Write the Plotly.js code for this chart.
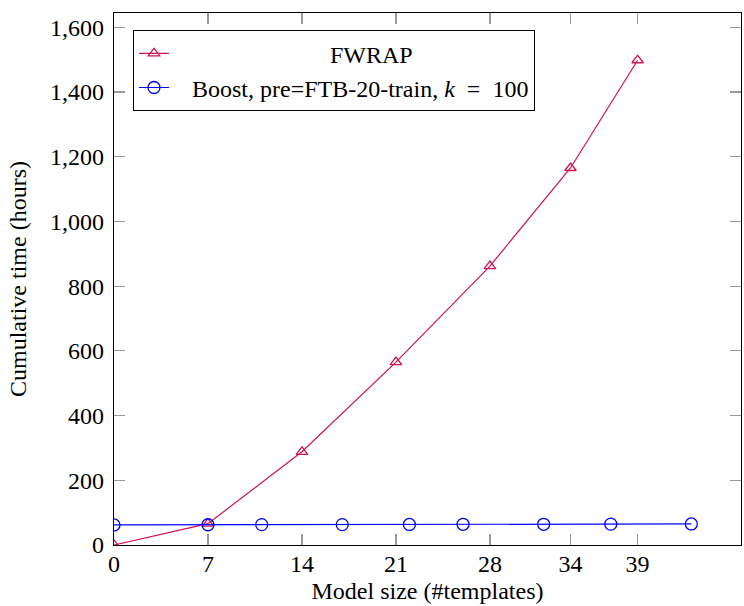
<!DOCTYPE html>
<html>
<head>
<meta charset="utf-8">
<script src="https://cdn.plot.ly/plotly-3.0.1.min.js"></script>
<style>html,body{margin:0;padding:0;background:#fff;}#chart{width:744px;height:606px;}</style>
</head>
<body>
<div id="chart"></div>
<script>
var fwrapX = [0, 7, 14, 21, 28, 34, 39];
var fwrapY = [0, 66, 288, 565, 862, 1165, 1498];
var boostX = [0, 7, 11, 17, 22, 26, 32, 37, 43];
var boostY = [62, 62.5, 63, 63, 63.5, 64, 64, 64.5, 65];
var xTicks = [0, 7, 14, 21, 28, 34, 39];
var yTicks = [0, 200, 400, 600, 800, 1000, 1200, 1400, 1600];

var NB = '\u00a0';
function pad(n){ var s=''; for(var i=0;i<n;i++) s+=NB; return s; }

var serif = 'Liberation Serif, Times New Roman, serif';
var red = '#cc1450';
var blue = '#0000ff';

var traces = [
  {
    x: fwrapX, y: fwrapY, type: 'scatter', mode: 'lines+markers',
    name: pad(26) + 'FWRAP',
    line: {color: red, width: 1.2},
    marker: {symbol: 'triangle-up-open', size: 10, color: red, line: {width: 1.3, color: red}}
  },
  {
    x: boostX, y: boostY, type: 'scatter', mode: 'lines+markers',
    name: pad(3) + 'Boost, pre=FTB-20-train, <i>k</i>' + pad(2) + '=' + pad(2) + '100',
    line: {color: blue, width: 1.2},
    marker: {symbol: 'circle-open', size: 12, color: blue, line: {width: 1.3, color: blue}}
  }
];

var axisCommon = {
  showline: true, linecolor: '#000', linewidth: 1.2,
  mirror: 'ticks', ticks: 'inside', ticklen: 11, tickcolor: '#999', tickwidth: 1.2,
  showgrid: false, zeroline: false,
  tickfont: {family: serif, size: 24, color: '#000'}
};

var layout = {
  width: 744, height: 606,
  margin: {l: 114, r: 3, t: 13, b: 61},
  paper_bgcolor: '#fff', plot_bgcolor: '#fff',
  showlegend: true,
  legend: {
    x: 0.03, y: 0.968, xanchor: 'left', yanchor: 'top',
    bgcolor: '#fff', bordercolor: '#000', borderwidth: 1.2,
    font: {family: serif, size: 24, color: '#000'},
    tracegroupgap: 0
  },
  xaxis: Object.assign({}, axisCommon, {
    range: [0, 46.7], tickmode: 'array', tickvals: xTicks, ticktext: xTicks.map(String),
    ticklabelstandoff: -3,
    title: {text: 'Model size (#templates)', font: {family: serif, size: 24, color: '#000'}, standoff: 6}
  }),
  yaxis: Object.assign({}, axisCommon, {
    range: [0, 1644], tickmode: 'array', tickvals: yTicks,
    ticktext: yTicks.map(function(v){ return v.toLocaleString('en-US'); }),
    ticklabelstandoff: 4,
    title: {text: 'Cumulative time (hours)', font: {family: serif, size: 24, color: '#000'}, standoff: 16}
  })
};

Plotly.newPlot('chart', traces, layout, {displayModeBar: false, staticPlot: true});
</script>
</body>
</html>
